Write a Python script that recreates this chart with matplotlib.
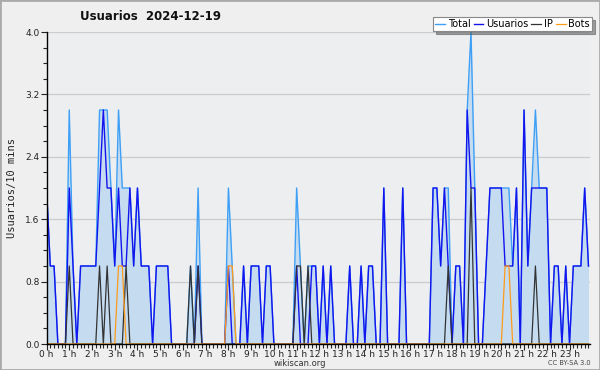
import matplotlib
matplotlib.use("Agg")
import matplotlib.pyplot as plt
from matplotlib.patches import Rectangle
from matplotlib.ticker import MultipleLocator

# 10-minute slots for 2024-12-19 (144 values, 00:00 .. 23:50)
total = [2, 1, 1, 0, 0, 0, 3, 1, 0, 1, 1, 1,
         1, 1, 3, 3, 3, 2, 1, 3, 2, 2, 2, 1,
         2, 1, 1, 1, 0, 1, 1, 1, 1, 0, 0, 0,
         0, 0, 1, 0, 2, 0, 0, 0, 0, 0, 0, 0,
         2, 1, 0, 0, 1, 0, 1, 1, 1, 0, 1, 1,
         0, 0, 0, 0, 0, 0, 2, 1, 0, 1, 1, 1,
         0, 1, 0, 1, 0, 0, 0, 0, 1, 0, 0, 1,
         0, 1, 1, 0, 0, 2, 0, 0, 0, 0, 2, 0,
         0, 0, 0, 0, 0, 0, 2, 2, 1, 2, 2, 0,
         1, 1, 0, 3, 4, 2, 0, 0, 1, 2, 2, 2,
         2, 2, 2, 1, 2, 0, 3, 1, 2, 3, 2, 2,
         2, 0, 1, 1, 0, 1, 0, 1, 1, 1, 2, 1]
usuarios = [2, 1, 1, 0, 0, 0, 2, 1, 0, 1, 1, 1,
            1, 1, 2, 3, 2, 2, 1, 2, 1, 1, 2, 1,
            2, 1, 1, 1, 0, 1, 1, 1, 1, 0, 0, 0,
            0, 0, 0, 0, 1, 0, 0, 0, 0, 0, 0, 0,
            1, 0, 0, 0, 1, 0, 1, 1, 1, 0, 1, 1,
            0, 0, 0, 0, 0, 0, 1, 0, 0, 0, 1, 1,
            0, 1, 0, 1, 0, 0, 0, 0, 1, 0, 0, 1,
            0, 1, 1, 0, 0, 2, 0, 0, 0, 0, 2, 0,
            0, 0, 0, 0, 0, 0, 2, 2, 1, 2, 1, 0,
            1, 1, 0, 3, 2, 2, 0, 0, 1, 2, 2, 2,
            2, 1, 1, 1, 2, 0, 3, 1, 2, 2, 2, 2,
            2, 0, 1, 1, 0, 1, 0, 1, 1, 1, 2, 1]
ip = [0, 0, 0, 0, 0, 0, 1, 0, 0, 0, 0, 0,
      0, 0, 1, 0, 1, 0, 0, 0, 0, 1, 0, 0,
      0, 0, 0, 0, 0, 0, 0, 0, 0, 0, 0, 0,
      0, 0, 1, 0, 1, 0, 0, 0, 0, 0, 0, 0,
      0, 0, 0, 0, 0, 0, 0, 0, 0, 0, 0, 0,
      0, 0, 0, 0, 0, 0, 1, 1, 0, 1, 0, 0,
      0, 0, 0, 0, 0, 0, 0, 0, 0, 0, 0, 0,
      0, 0, 0, 0, 0, 0, 0, 0, 0, 0, 0, 0,
      0, 0, 0, 0, 0, 0, 0, 0, 0, 0, 1, 0,
      0, 0, 0, 0, 2, 0, 0, 0, 0, 0, 0, 0,
      0, 0, 0, 0, 0, 0, 0, 0, 0, 1, 0, 0,
      0, 0, 0, 0, 0, 0, 0, 0, 0, 0, 0, 0]
bots = [0, 0, 0, 0, 0, 0, 0, 0, 0, 0, 0, 0,
        0, 0, 0, 0, 0, 0, 0, 1, 1, 0, 0, 0,
        0, 0, 0, 0, 0, 0, 0, 0, 0, 0, 0, 0,
        0, 0, 0, 0, 0, 0, 0, 0, 0, 0, 0, 0,
        1, 1, 0, 0, 0, 0, 0, 0, 0, 0, 0, 0,
        0, 0, 0, 0, 0, 0, 0, 0, 0, 0, 0, 0,
        0, 0, 0, 0, 0, 0, 0, 0, 0, 0, 0, 0,
        0, 0, 0, 0, 0, 0, 0, 0, 0, 0, 0, 0,
        0, 0, 0, 0, 0, 0, 0, 0, 0, 0, 0, 0,
        0, 0, 0, 0, 0, 0, 0, 0, 0, 0, 0, 0,
        0, 1, 1, 0, 0, 0, 0, 0, 0, 0, 0, 0,
        0, 0, 0, 0, 0, 0, 0, 0, 0, 0, 0, 0]
hour_labels = [f"{h} h" for h in range(24)]
y_ticks = [0.0, 0.8, 1.6, 2.4, 3.2, 4.0]

x = list(range(len(total)))

fig = plt.figure(figsize=(6, 3.7), dpi=100, facecolor="#efefef")
ax = fig.add_axes([46.5 / 600, 26 / 370, 543.5 / 600, 312 / 370])
ax.set_facecolor("#eceef0")

ax.fill_between(x, total, color="#c5dcf0", lw=0)
ax.plot(x, total, color="#3d9ff5", lw=1.0, label="Total")
ax.plot(x, usuarios, color="#1414ee", lw=1.0, label="Usuarios")
ax.plot(x, ip, color="#333333", lw=0.9, label="IP")
ax.plot(x, bots, color="#ff9a1a", lw=0.9, label="Bots")

ax.set_xlim(0, 143.4)
ax.set_ylim(0, 4)
ax.set_xticks(range(0, 144, 6))
ax.set_xticklabels(hour_labels)
ax.xaxis.set_minor_locator(MultipleLocator(1))
ax.set_yticks(y_ticks)
ax.set_yticklabels([f"{v:.1f}" for v in y_ticks])
ax.yaxis.set_minor_locator(MultipleLocator(0.2))
ax.grid(axis="y", color="#cccccc", lw=0.9)
ax.set_axisbelow(True)

ax.tick_params(axis="both", which="major", labelsize=6.5, colors="#222222",
               length=4, width=0.8, pad=1)
ax.tick_params(axis="x", which="major", pad=0)
ax.tick_params(axis="both", which="minor", length=3, width=0.8, color="#222222")
for side in ["top", "right"]:
    ax.spines[side].set_visible(False)
ax.spines["left"].set_linewidth(1.0)
ax.spines["bottom"].set_linewidth(1.0)

ax.set_ylabel("Usuarios/10 mins", family="DejaVu Sans Mono", fontsize=7.5,
              color="#222222", labelpad=6)

fig.text(151 / 600, 1 - 16 / 370, "Usuarios  2024-12-19", ha="center", va="center",
         fontsize=8.5, fontweight="bold", color="#111111")
fig.text(300 / 600, 1 - 363.5 / 370, "wikiscan.org", ha="center", va="center",
         fontsize=6, color="#333333")
fig.text(569 / 600, 1 - 363 / 370, "CC BY-SA 3.0", ha="center", va="center",
         fontsize=4.8, color="#444444")

leg = fig.legend(loc="upper right", bbox_to_anchor=(592 / 600, 1 - 17 / 370), ncol=4,
                 fontsize=7, frameon=True, fancybox=False, shadow=True,
                 handlelength=1.0, handletextpad=0.3, columnspacing=0.3,
                 borderpad=0.2, borderaxespad=0)
leg.get_frame().set_edgecolor("#888888")
leg.get_frame().set_linewidth(0.8)

fig.patches.append(Rectangle((0, 0), 1, 1, transform=fig.transFigure, fill=False,
                             edgecolor="#aaaaaa", lw=2))

fig.savefig("out.png", dpi=100, facecolor=fig.get_facecolor())
